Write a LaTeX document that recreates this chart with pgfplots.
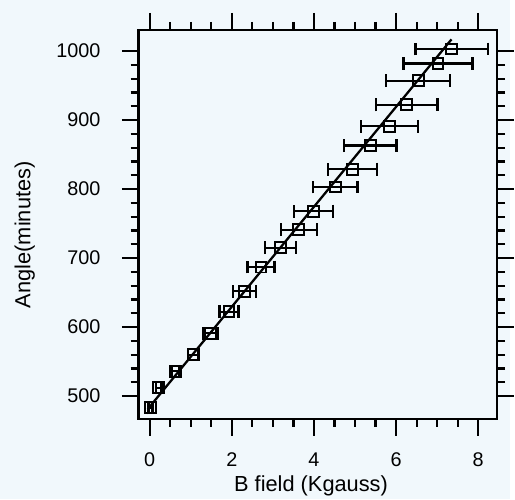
\documentclass[border=0pt]{standalone}
\usepackage{fontspec}
\setmainfont{Liberation Sans}
\usepackage{pgfplots}
\pgfplotsset{compat=1.18}
\definecolor{bgc}{RGB}{241,248,252}
\pgfplotstableread{
x y ex
0.02 483 0.05
0.22 512 0.07
0.63 536 0.08
1.06 560 0.13
1.49 591 0.18
1.93 622 0.23
2.30 652 0.28
2.71 687 0.33
3.19 715 0.38
3.63 741 0.44
3.99 768 0.48
4.52 803 0.54
4.94 829 0.59
5.37 863 0.64
5.84 891 0.70
6.26 922 0.75
6.54 957 0.78
7.02 982 0.84
7.35 1003 0.88
}\datatable
\begin{document}
\begin{tikzpicture}
\fill[bgc] (0,0) rectangle (515pt,504pt);
\begin{axis}[
  at={(140pt,81pt)}, anchor=south west,
  scale only axis, width=362pt, height=393pt,
  xmin=-0.27, xmax=8.46, ymin=467, ymax=1031,
  xtick={0,2,4,6,8}, ytick={500,600,700,800,900,1000},
  minor x tick num=3, minor y tick num=4,
  tick align=outside,
  major tick length=17pt, minor tick length=8pt,
  every tick/.style={black, line width=2.2pt},
  axis line style={line width=2.4pt},
  /pgf/number format/assume math mode=true,
  /pgf/number format/1000 sep={},
  ticklabel style={font=\fontsize{20}{24}\selectfont},
  xticklabel style={yshift=-14pt},
  yticklabel style={xshift=-18pt},
  xlabel={B field (Kgauss)},
  ylabel={Angle(minutes)},
  xlabel style={font=\fontsize{22}{26}\selectfont, at={(axis description cs:0.481,-0.173)}, anchor=center},
  ylabel style={font=\fontsize{22}{26}\selectfont, at={(axis description cs:-0.318,0.473)}, anchor=center},
  axis background/.style={fill=bgc},
]
\addplot[black, line width=2.3pt, mark=none] coordinates {(-0.05,481) (7.35,1017)};
\addplot[black, only marks, mark=square, mark size=5.5pt, mark options={line width=2pt},
  error bars/.cd, x dir=both, x explicit,
  error bar style={line width=2.3pt},
  error mark options={rotate=90, mark size=6.5pt, line width=2.3pt}]
  table[x=x,y=y,x error=ex] {\datatable};
\end{axis}
\end{tikzpicture}
\end{document}
